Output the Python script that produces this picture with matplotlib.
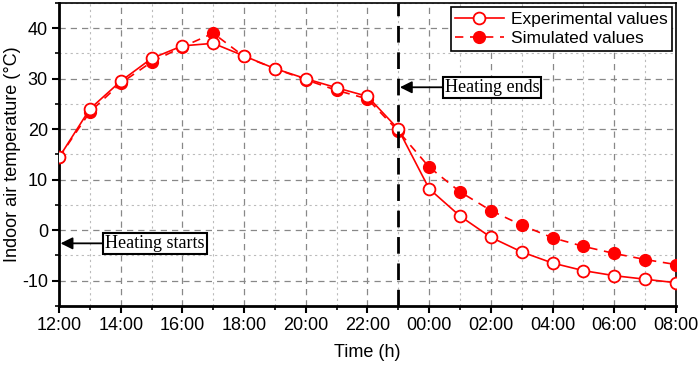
import numpy as np
import matplotlib
matplotlib.use("Agg")
import matplotlib.pyplot as plt
from matplotlib.ticker import MultipleLocator, FuncFormatter

# hours since 12:00 on day 1
hours = list(range(12, 33))
exp_vals = [14.4, 24.0, 29.5, 34.0, 36.5, 37.0, 34.5, 32.0, 30.0, 28.2, 26.5,
            20.0, 8.2, 2.8, -1.4, -4.3, -6.5, -8.0, -9.0, -9.7, -10.4]
sim_vals = [14.4, 23.4, 29.1, 33.3, 36.3, 39.0, 34.4, 32.0, 29.8, 27.7, 26.0,
            19.6, 12.5, 7.6, 3.9, 1.0, -1.5, -3.2, -4.6, -5.8, -6.8]
heat_end = 23
heat_end_y = 28.3
heat_start_y = -2.6

plt.rcParams['font.family'] = ['Liberation Sans', 'DejaVu Sans']
plt.rcParams['axes.unicode_minus'] = False

fig = plt.figure(figsize=(6.99, 3.66), dpi=100)
ax = fig.add_axes([0.0844, 0.164, 0.8826, 0.828])

red = "#ff0000"
ax.plot(hours, exp_vals, color=red, lw=1.2, marker="o", ms=8.5, mfc="white",
        mec=red, mew=1.3, label="Experimental values", zorder=4)
ax.plot(hours, sim_vals, color=red, lw=1.2, ls=(0, (5, 4)), marker="o", ms=8.5,
        mfc=red, mec=red, label="Simulated values", zorder=3)

ax.axvline(heat_end, color="k", lw=2, ls=(0, (6, 3.5)), zorder=5)

ax.set_xlim(12, 32)
ax.set_ylim(-15, 45)
ax.xaxis.set_major_locator(MultipleLocator(2))
ax.xaxis.set_minor_locator(MultipleLocator(1))
ax.yaxis.set_major_locator(MultipleLocator(10))
ax.yaxis.set_minor_locator(MultipleLocator(5))
ax.xaxis.set_major_formatter(FuncFormatter(lambda v, p: f"{int(v) % 24:02d}:00"))

ax.grid(which="major", color="#888888", ls=(0, (5, 4)), lw=0.9)
ax.grid(which="minor", color="#bbbbbb", ls=(0, (2, 3)), lw=0.8)
ax.set_axisbelow(True)

ax.tick_params(which="major", direction="out", length=5, width=1.5, labelsize=13, pad=3)
ax.tick_params(which="minor", direction="out", length=3, width=1.2)
for s in ("left", "bottom"):
    ax.spines[s].set_linewidth(2)
for s in ("top", "right"):
    ax.spines[s].set_linewidth(1.2)

ax.set_xlabel("Time (h)", fontsize=13, labelpad=7)
ax.set_ylabel("Indoor air temperature (\u00b0C)", fontsize=13)
ax.yaxis.set_label_coords(-0.062, 0.5)

box = dict(boxstyle="square,pad=0.1", fc="white", ec="k", lw=1.5)
arrow = dict(arrowstyle="-|>", color="k", lw=1.3, mutation_scale=18, shrinkA=0, shrinkB=0)
ax.annotate("Heating ends", xy=(heat_end + 0.05, heat_end_y), xytext=(24.5, heat_end_y),
            fontsize=13, family=["Liberation Serif"], va="center", ha="left",
            bbox=box, arrowprops=arrow, zorder=6)
ax.annotate("Heating starts", xy=(12.05, heat_start_y), xytext=(13.5, heat_start_y),
            fontsize=13, family=["Liberation Serif"], va="center", ha="left",
            bbox=box, arrowprops=arrow, zorder=6)

leg = ax.legend(loc="upper right", fontsize=12.5, frameon=True, fancybox=False,
                borderpad=0.25, handlelength=2.8, handletextpad=0.4, labelspacing=0.25,
                borderaxespad=0.25)
leg.get_frame().set_edgecolor("k")
leg.get_frame().set_linewidth(1.2)
leg.get_frame().set_alpha(1)

fig.savefig("out.png", dpi=100)
